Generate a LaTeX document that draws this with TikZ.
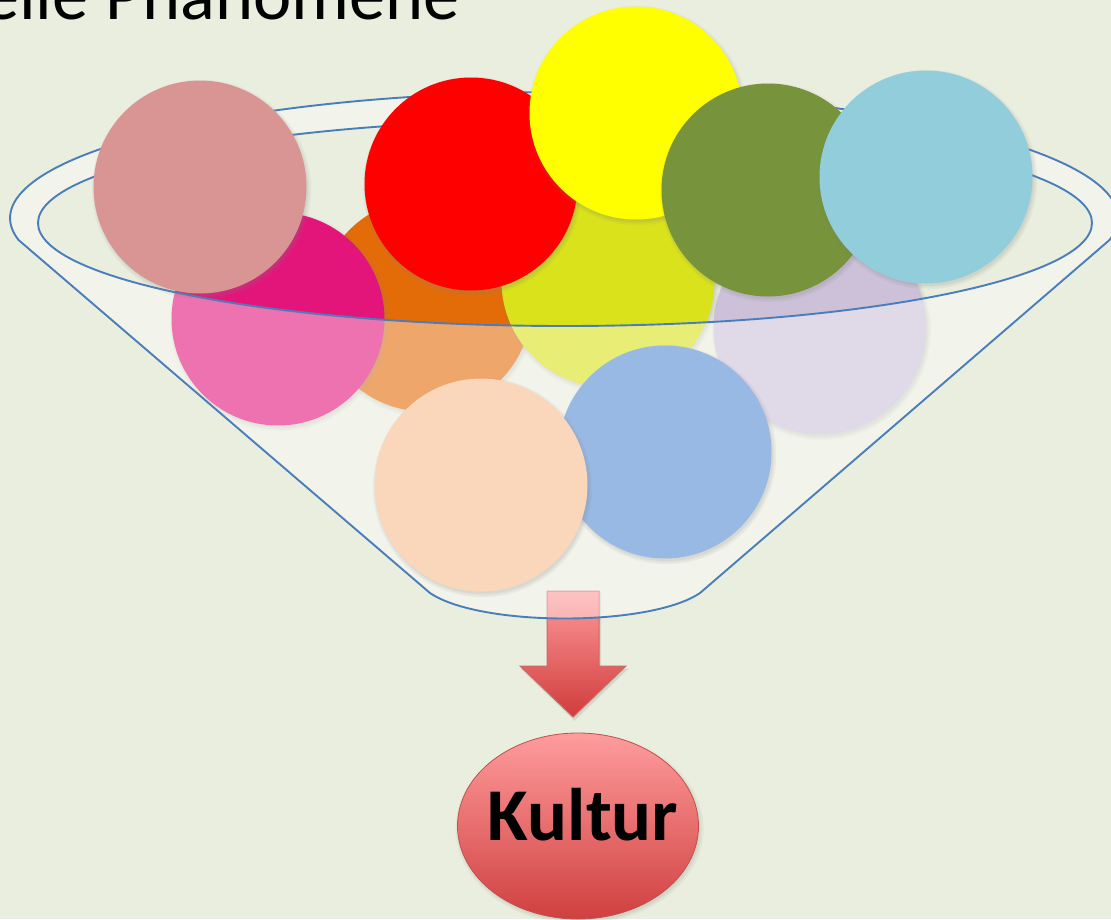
\documentclass[tikz,border=0pt]{standalone}
\usepackage{fontspec}
\setmainfont{Carlito}
\usetikzlibrary{shapes.geometric,shadows,calc}
\definecolor{bg}{HTML}{EAEEDE}
\definecolor{funnelblue}{HTML}{4A7EBB}
\definecolor{cRosy}{HTML}{D99594}
\definecolor{cPink}{HTML}{E3157A}
\definecolor{cOrange}{HTML}{E36C09}
\definecolor{cRed}{HTML}{FF0000}
\definecolor{cYellow}{HTML}{FFFF00}
\definecolor{cLime}{HTML}{D9E21A}
\definecolor{cOlive}{HTML}{77933C}
\definecolor{cSky}{HTML}{92CDDC}
\definecolor{cLav}{HTML}{CCC1D9}
\definecolor{cBlue}{HTML}{98B9E3}
\definecolor{cPeach}{HTML}{FAD6BA}
\definecolor{arrowtop}{HTML}{FF9A9A}
\definecolor{arrowbot}{HTML}{D03C3C}
\definecolor{redline}{HTML}{C0504D}
\definecolor{kulturtop}{HTML}{FF9C9C}
\definecolor{kulturbot}{HTML}{D04040}
\tikzset{
  softshadow/.style={
    drop shadow={opacity=0.07, shadow xshift=1.5pt, shadow yshift=-2.5pt, shadow scale=1.03},
    drop shadow={opacity=0.08, shadow xshift=1.5pt, shadow yshift=-2.5pt, shadow scale=1.015},
    drop shadow={opacity=0.10, shadow xshift=1.5pt, shadow yshift=-2.5pt, shadow scale=1.0}},
  ball/.style={circle, minimum size=213pt, inner sep=0pt, fill=#1, softshadow},
  funnelline/.style={draw=funnelblue, line width=1.9pt},
  funnelfill/.style={fill=white, fill opacity=0.4, even odd rule},
}
\begin{document}
\begin{tikzpicture}[x=1pt, y=-1pt]
\useasboundingbox (0,0) rectangle (1111,919);
\clip (0,0) rectangle (1111,919);
\fill[bg] (0,0) rectangle (1111,919);

% title (cut off at the top, as in the reference)
\node[anchor=base east, inner sep=0pt, font=\fontsize{72.5}{80}\selectfont] (title) at (460,19) {elle Phänomene};

% block arrow (behind the funnel)
\coordinate (arrowstart) at (573,591);
\coordinate (arrowtip) at (573,717);
\path[shade, top color=arrowtop, bottom color=arrowbot, draw=redline!85, line width=1pt, softshadow]
  ($(arrowstart)+(-26,0)$) -- ($(arrowstart)+(26,0)$) -- (599,666) -- (626,666) -- (arrowtip)
  -- (520,666) -- (547,666) -- cycle;

% balls behind the funnel front
\node[ball=cOrange] (orange) at (425,305) {};
\node[ball=cPink] (pink) at (278,319) {};
\node[ball=cLav] (lav) at (820,328) {};
\node[ball=cLime] (lime) at (608,281) {};

% funnel
\path[funnelfill]
  (1109.5,240) arc[start angle=-10.06, end angle=190.06, x radius=554pt, y radius=126pt]
  -- (430,593) .. controls (480,627) and (650,627) .. (700,593) -- cycle
  (565,223) ellipse [x radius=527pt, y radius=103pt];
\draw[funnelline]
  (1109.5,240) arc[start angle=-10.06, end angle=190.06, x radius=554pt, y radius=126pt]
  -- (430,593) .. controls (480,627) and (650,627) .. (700,593) -- cycle;
\draw[funnelline] (565,223) ellipse [x radius=527pt, y radius=103pt];

% balls in front
\node[ball=cBlue] (blue) at (665,452) {};
\node[ball=cPeach] (peach) at (481,485) {};
\node[ball=cRosy] (rosy) at (200,187) {};
\node[ball=cRed] (red) at (471,184) {};
\node[ball=cYellow] (yellow) at (636,113) {};
\node[ball=cOlive] (olive) at (768,190) {};
\node[ball=cSky] (sky) at (926,177) {};

% result
\node[ellipse, minimum width=241pt, minimum height=186pt, inner sep=0pt,
  top color=kulturtop, bottom color=kulturbot, draw=redline, line width=0.8pt, softshadow] (kultur) at (578,826) {};
\node[anchor=base, inner sep=0pt, font=\bfseries\fontsize{74.5}{80}\selectfont] (kulturtext) at (583,840) {Kultur};
\end{tikzpicture}
\end{document}
